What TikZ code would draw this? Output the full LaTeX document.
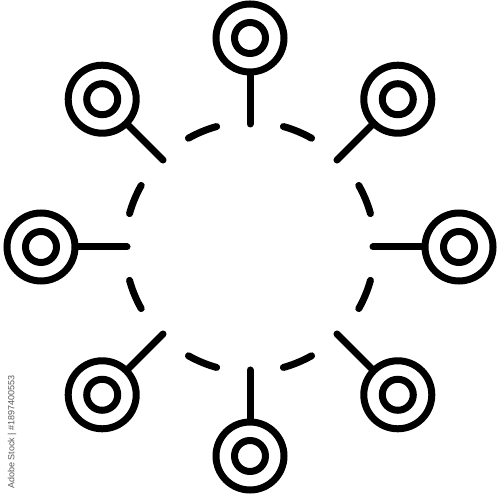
\documentclass[tikz,border=0pt]{standalone}
\usepackage{fontspec}
\setmainfont{Liberation Sans}
\begin{document}
\begin{tikzpicture}[x=1pt,y=1pt,
  ring/.style={circle,draw,line width=7pt,inner sep=0pt,minimum size=68pt},
  core/.style={circle,draw,line width=7pt,inner sep=0pt,minimum size=31pt},
  spoke/.style={line width=7pt,line cap=round},
  dashseg/.style={line width=7pt,line cap=round}]
\useasboundingbox (0,0) rectangle (500,500);
\fill[white] (0,0) rectangle (500,500);
\coordinate (O) at (250,253);
\foreach \i in {0,...,7}{
  \pgfmathsetmacro\a{90-45*\i}
  \node[ring] (n\i) at ([shift={(\a:209)}]O) {};
  \node[core] (k\i) at (n\i.center) {};
  \coordinate (c\i) at ([shift={(\a:123)}]O);
  \draw[spoke] (n\i) -- (c\i);
  \draw[dashseg] ([shift={(\a-22.5-7:125)}]O) arc[start angle=\a-22.5-7, end angle=\a-22.5+7, radius=125];
}
\node[rotate=90,text=black!65,font=\fontsize{9}{10}\selectfont] (wm) at (12,68) {Adobe Stock | \#1897400553};
\end{tikzpicture}
\end{document}
